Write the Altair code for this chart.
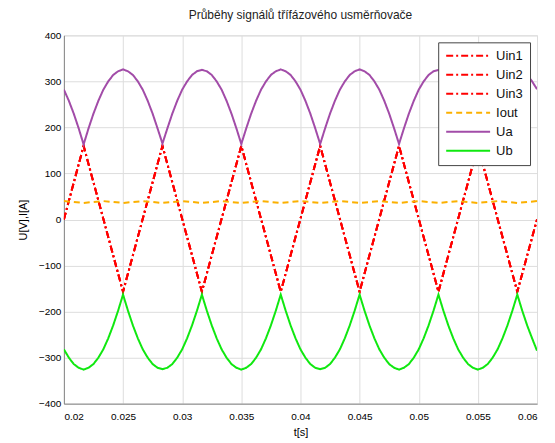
import altair as alt
import numpy as np
import pandas as pd

# sample times for the smooth envelopes
t_env = np.linspace(0.02, 0.06, 97)

ua = [282, 258, 230, 198,
      163, 198, 230, 258, 282, 300, 314, 322, 326, 322, 314, 300, 282, 258, 230, 198,
      165, 198, 230, 258, 282, 300, 314, 322, 325, 322, 314, 300, 282, 258, 230, 198,
      164, 198, 230, 258, 282, 300, 314, 322, 326, 322, 314, 300, 282, 258, 230, 198,
      164, 198, 230, 258, 282, 300, 314, 322, 326, 322, 314, 300, 282, 258, 230, 198,
      164, 198, 230, 258, 282, 300, 314, 322, 325, 322, 314, 300, 282, 258, 230, 198,
      164, 198, 230, 258, 282, 300, 314, 322, 326, 322, 314, 300, 283]

ub = [-282, -300, -314, -322,
      -326, -322, -314, -300, -282, -258, -230, -198, -163, -198, -230, -258, -282, -300, -314, -322,
      -325, -322, -314, -300, -282, -258, -230, -198, -163, -198, -230, -258, -282, -300, -314, -322,
      -326, -322, -314, -300, -282, -258, -230, -198, -163, -198, -230, -258, -282, -300, -314, -322,
      -325, -322, -314, -300, -282, -258, -230, -198, -163, -198, -230, -258, -282, -300, -314, -322,
      -326, -322, -314, -300, -282, -258, -230, -198, -163, -198, -230, -258, -282, -300, -314, -322,
      -326, -322, -314, -300, -282, -258, -230, -198, -163, -198, -230, -258, -285]

# input voltages (coarse zig-zag)
t_uin = [0.02, 0.021667, 0.025, 0.028333, 0.031667, 0.035, 0.038333,
         0.041667, 0.045, 0.048333, 0.051667, 0.055, 0.058333, 0.06]
uin1 = [0, 160, -157, 160, -157, 160, -157, 160, -157, 160, -157, 160, -157, 0]
uin2 = [0, 160, -157, 160, -157, 160, -157, 160, -157, 160, -157, 160, -157, 0]
uin3 = [0, 160, -157, 160, -157, 160, -157, 160, -157, 160, -157, 160, -157, 0]

# output current
t_iout = [0.02, 0.021667, 0.023333, 0.025, 0.026667, 0.028333, 0.03, 0.031667,
          0.033333, 0.035, 0.036667, 0.038333, 0.04, 0.041667, 0.043333, 0.045,
          0.046667, 0.048333, 0.05, 0.051667, 0.053333, 0.055, 0.056667, 0.058333, 0.06]
iout = [40, 36, 40, 36, 40, 36, 40, 36, 40, 36, 40, 36, 40, 36, 40, 36,
        40, 36, 40, 36, 40, 36, 40, 36, 40]

series = ["Uin1", "Uin2", "Uin3", "Iout", "Ua", "Ub"]
colors = ["#ff0000", "#ff0000", "#ff0000", "#fbb000", "#a24ca8", "#10e810"]
dashes = [[7, 3, 2, 3], [7, 3, 2, 3], [7, 3, 2, 3], [6, 4], [1, 0], [1, 0]]

frames = []
for name, tt, vv in [("Uin1", t_uin, uin1), ("Uin2", t_uin, uin2), ("Uin3", t_uin, uin3),
                     ("Iout", t_iout, iout), ("Ua", list(t_env), ua), ("Ub", list(t_env), ub)]:
    frames.append(pd.DataFrame({"t": tt, "v": vv, "s": name, "i": range(len(tt))}))
df = pd.concat(frames, ignore_index=True)

font = "Liberation Sans"

leg = alt.Legend(title=None, orient="none", legendX=375, legendY=7,
                 symbolType="M-1,0L7,0", symbolSize=121, symbolStrokeWidth=2,
                 symbolFillColor="transparent",
                 strokeColor="#444", fillColor="#ffffff", padding=7,
                 rowPadding=5, labelOffset=38, labelFont=font, labelFontSize=13,
                 labelColor="#111")

chart = alt.Chart(df).mark_line(strokeWidth=2, clip=True).encode(
    x=alt.X("t:Q", scale=alt.Scale(domain=[0.02, 0.06], nice=False, zero=False),
            axis=alt.Axis(title="t[s]", values=[0.02, 0.025, 0.03, 0.035, 0.04, 0.045, 0.05, 0.055, 0.06],
                          format="~g", ticks=False, labelPadding=8, titlePadding=5,
                          titleFontWeight="normal")),
    y=alt.Y("v:Q", scale=alt.Scale(domain=[-400, 400], nice=False),
            axis=alt.Axis(title="U[V],I[A]", values=list(range(-400, 401, 100)),
                          ticks=False, labelPadding=3, titlePadding=10,
                          titleFontWeight="normal")),
    color=alt.Color("s:N", scale=alt.Scale(domain=series, range=colors), legend=leg),
    strokeDash=alt.StrokeDash("s:N", scale=alt.Scale(domain=series, range=dashes), legend=leg),
    order="i:Q",
).properties(
    width=474, height=369,
    title=alt.TitleParams("Průběhy signálů třífázového usměrňovače", fontSize=12, fontWeight="normal",
                          font=font, color="#222", offset=8),
    autosize=alt.AutoSizeParams(type="none"),
    padding={"left": 56, "top": 27, "right": 10, "bottom": 35},
).configure_view(
    stroke="#000", strokeWidth=1
).configure_axis(
    labelFont=font, titleFont=font, labelFontSize=13, titleFontSize=13,
    labelColor="#222", titleColor="#222",
    domainColor="#000", grid=True, gridColor="#000", gridDash=[1, 2], gridOpacity=1,
).configure(background="white")

chart.save("out.html", embed_options={"renderer": "svg", "actions": False})
